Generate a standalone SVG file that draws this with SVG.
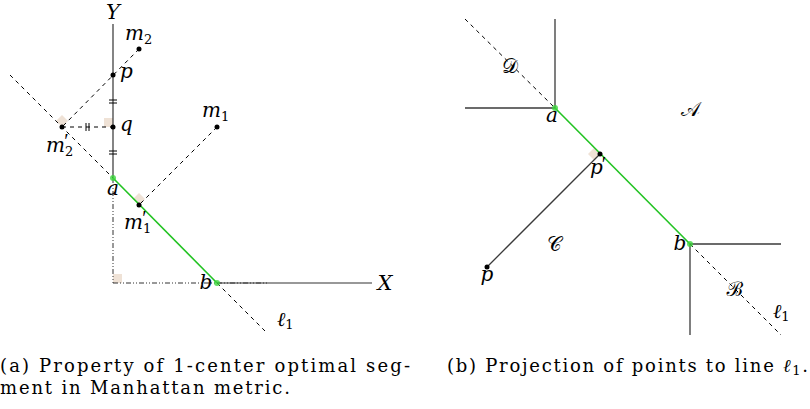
<svg xmlns="http://www.w3.org/2000/svg" width="810" height="409" viewBox="0 0 810 409">
<style>
  .ax { stroke:#333; stroke-width:1.2; fill:none; }
  .ln { stroke:#3a3a3a; stroke-width:1.3; fill:none; }
  .dash { stroke:#000; stroke-width:1; stroke-dasharray:4 4; fill:none; }
  .dd { stroke:#333; stroke-width:1; stroke-dasharray:5 2 1 2 1 2; fill:none; }
  .green { stroke:#22c322; stroke-width:1.6; fill:none; }
  .gdot { fill:#3dd63d; fill-opacity:0.8; }
  .dot { fill:#000; }
  .ra { fill:#efe2d6; stroke:none; }
  .tick { stroke:#000; stroke-width:1; }
  .m { font-family:"DejaVu Serif","Liberation Serif",serif; font-style:italic; font-size:20px; fill:#000; }
  .big { font-size:21px; }
  .sub { font-style:normal; font-size:13px; }
  .pr { font-family:"Liberation Serif",serif; font-style:normal; font-size:20px; }
  .cal { font-family:"DejaVu Serif","Noto Sans","Liberation Serif",serif; font-size:20px; fill:#000; font-style:normal; }
  .cap { font-family:"DejaVu Serif","Liberation Serif",serif; font-size:18px; fill:#000; }
</style>

<!-- Left panel -->
<g id="right-angle-marks-a">
  <polygon class="ra" points="62,127 56,121 62,115 68,121"/>
  <rect class="ra" x="104" y="118" width="9" height="9"/>
  <polygon class="ra" points="139,205 133,199 139,193 145,199"/>
  <rect class="ra" x="113" y="274" width="9" height="9"/>
</g>

<g id="connectors-a">
  <line class="ax" x1="113" y1="24" x2="113" y2="178"/>
  <line class="dd" x1="113" y1="178" x2="113" y2="283"/>
  <line class="dd" x1="113" y1="283" x2="268" y2="283"/>
  <line class="ax" x1="217" y1="283" x2="372" y2="283"/>
  <line class="dash" x1="10" y1="75" x2="113" y2="178"/>
  <line class="dash" x1="217" y1="283" x2="265" y2="331"/>
  <line class="dash" x1="139" y1="49" x2="62" y2="127"/>
  <line class="dash" x1="62" y1="127" x2="113" y2="127"/>
  <line class="dash" x1="217" y1="127" x2="139" y2="205"/>
  <line class="green" x1="113" y1="178" x2="217" y2="283"/>
  <line class="tick" x1="109" y1="100" x2="117" y2="100"/>
  <line class="tick" x1="109" y1="103" x2="117" y2="103"/>
  <line class="tick" x1="109" y1="151" x2="117" y2="151"/>
  <line class="tick" x1="109" y1="154" x2="117" y2="154"/>
  <line class="tick" x1="86" y1="123" x2="86" y2="131"/>
  <line class="tick" x1="89" y1="123" x2="89" y2="131"/>
</g>

<g id="node-Y"><text class="m big" x="113" y="19" text-anchor="middle">Y</text></g>
<g id="node-X"><text class="m big" x="385" y="290" text-anchor="middle">X</text></g>
<g id="node-m2"><circle class="dot" cx="139" cy="49" r="2.5"/><text class="m" x="125" y="40">m<tspan class="sub" dy="4">2</tspan></text></g>
<g id="node-p-a"><circle class="dot" cx="113" cy="75" r="2.5"/><text class="m" x="120" y="78">p</text></g>
<g id="node-q"><circle class="dot" cx="113" cy="127" r="2.5"/><text class="m" x="120" y="131">q</text></g>
<g id="node-m2p"><circle class="dot" cx="62" cy="127" r="2.5"/><text class="m" x="46" y="152">m<tspan class="sub" dy="4">2</tspan><tspan class="pr" dx="-9" dy="-8">′</tspan></text></g>
<g id="node-m1"><circle class="dot" cx="217" cy="127" r="2.5"/><text class="m" x="202" y="117">m<tspan class="sub" dy="4">1</tspan></text></g>
<g id="node-m1p"><circle class="dot" cx="139" cy="205" r="2.5"/><text class="m" x="124" y="229">m<tspan class="sub" dy="4">1</tspan><tspan class="pr" dx="-9" dy="-8">′</tspan></text></g>
<g id="node-a-a"><circle class="gdot" cx="113" cy="178" r="3"/><text class="m" x="113" y="195" text-anchor="middle">a</text></g>
<g id="node-b-a"><circle class="gdot" cx="217" cy="283" r="3"/><text class="m" x="206" y="289" text-anchor="middle">b</text></g>
<g id="node-l1-a"><text class="m" x="277" y="326">ℓ<tspan class="sub" dy="3">1</tspan></text></g>

<!-- Right panel -->
<g id="right-angle-marks-b">
  <polygon class="ra" points="600,154 594,148 588,154 594,160"/>
</g>
<g id="connectors-b">
  <line class="ln" x1="555" y1="19" x2="555" y2="108"/>
  <line class="ln" x1="465" y1="108" x2="555" y2="108"/>
  <line class="dash" x1="465" y1="19" x2="555" y2="108"/>
  <line class="ln" x1="487" y1="267" x2="600" y2="154"/>
  <line class="green" x1="555" y1="108" x2="690" y2="244"/>
  <line class="ln" x1="690" y1="244" x2="781" y2="244"/>
  <line class="ln" x1="690" y1="244" x2="690" y2="335"/>
  <line class="dash" x1="690" y1="244" x2="781" y2="335"/>
</g>
<g id="node-D"><text class="cal" x="510" y="73" text-anchor="middle">𝒟</text></g>
<g id="node-A"><text class="cal" x="690" y="116" text-anchor="middle">𝒜</text></g>
<g id="node-C"><text class="cal" x="554" y="251" text-anchor="middle">𝒞</text></g>
<g id="node-B"><text class="cal" x="735" y="296" text-anchor="middle">ℬ</text></g>
<g id="node-a-b"><circle class="gdot" cx="555" cy="108" r="3"/><text class="m" x="552" y="122" text-anchor="middle">a</text></g>
<g id="node-pp"><circle class="dot" cx="600" cy="154" r="2.5"/><text class="m" x="590" y="174">p<tspan class="pr" dx="-1" dy="-3">′</tspan></text></g>
<g id="node-p-b"><circle class="dot" cx="487" cy="267" r="2.5"/><text class="m" x="487" y="281" text-anchor="middle">p</text></g>
<g id="node-b-b"><circle class="gdot" cx="690" cy="244" r="3"/><text class="m" x="680" y="250" text-anchor="middle">b</text></g>
<g id="node-l1-b"><text class="m" x="773" y="318">ℓ<tspan class="sub" dy="3">1</tspan></text></g>

<!-- Captions -->
<g id="caption-a">
  <text class="cap" x="0" y="372" textLength="410" lengthAdjust="spacing">(a) Property of 1-center optimal seg-</text>
  <text class="cap" x="0" y="394" textLength="290" lengthAdjust="spacing">ment in Manhattan metric.</text>
</g>
<g id="caption-b">
  <text class="cap" x="447" y="372" textLength="361" lengthAdjust="spacing">(b) Projection of points to line <tspan font-style="italic">ℓ</tspan><tspan font-size="13" dy="3">1</tspan><tspan dy="-3">.</tspan></text>
</g>
</svg>
